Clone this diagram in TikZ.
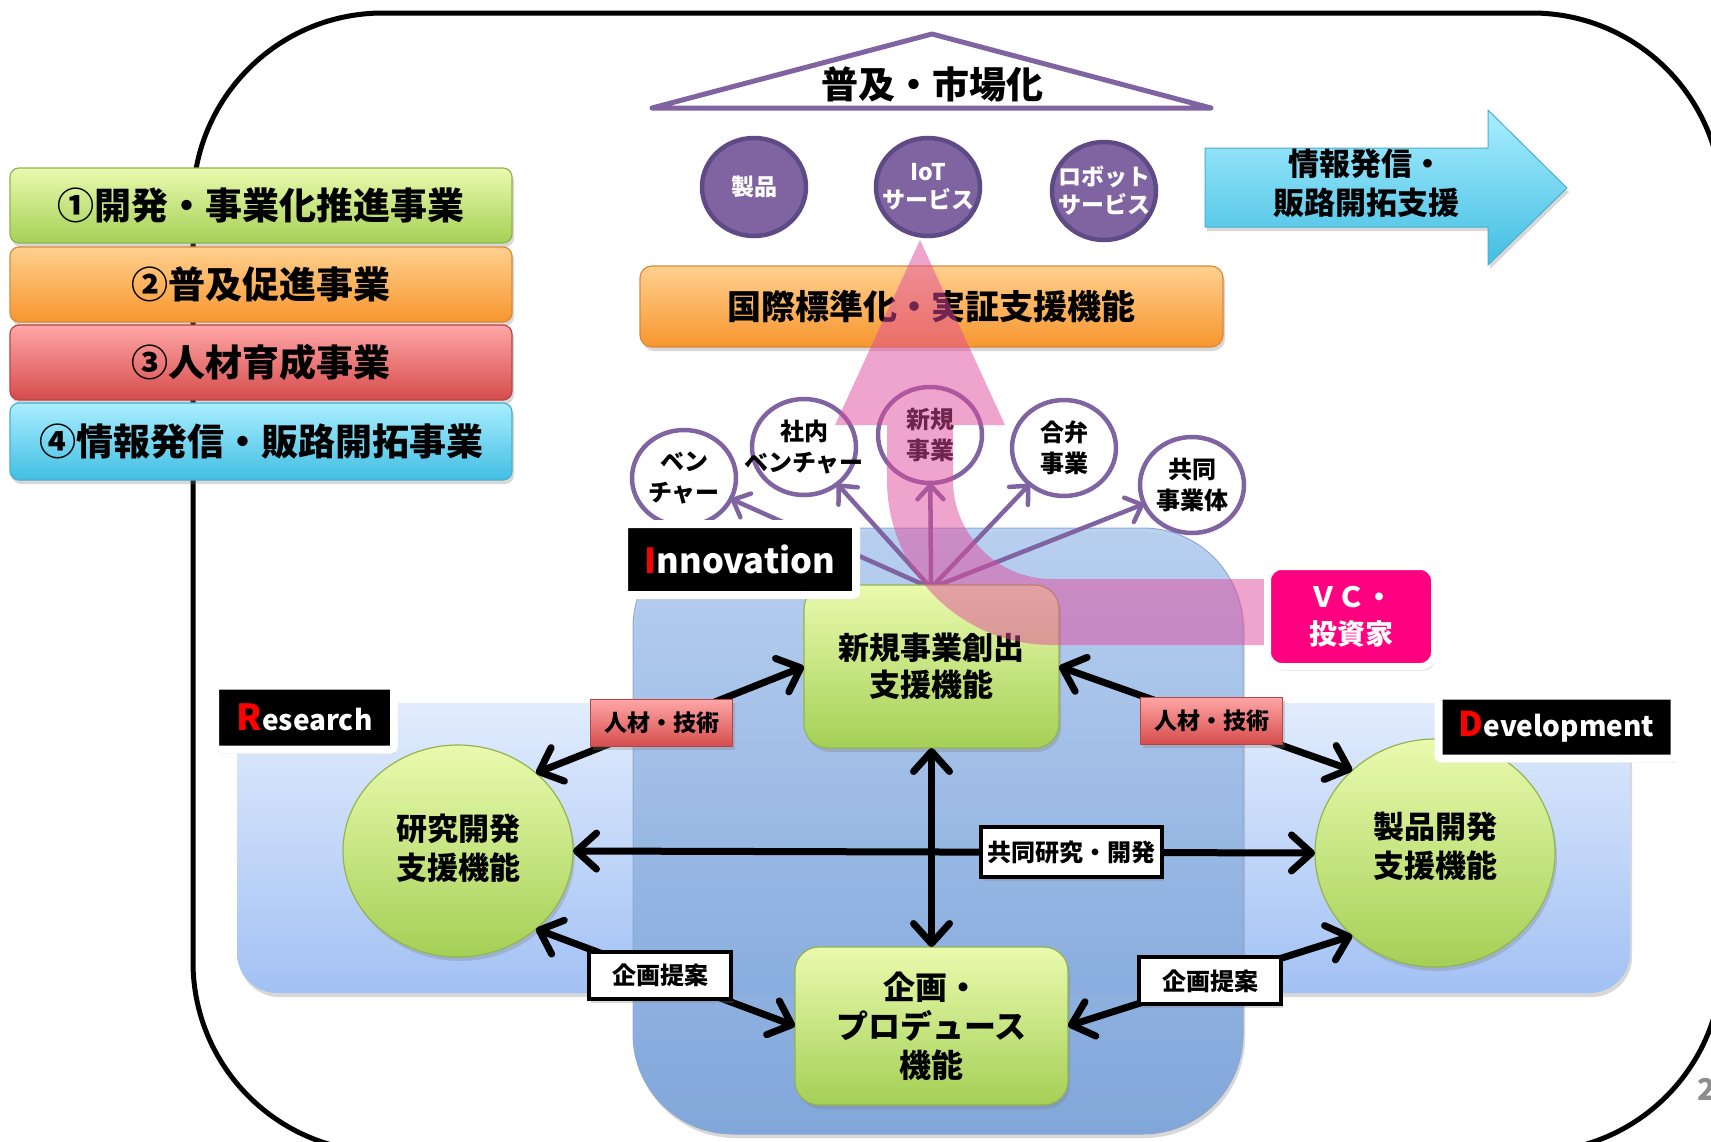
\documentclass[tikz,border=0pt]{standalone}
\usepackage{fontspec}
\setmainfont{Noto Sans CJK JP}
\usetikzlibrary{arrows.meta,shapes.geometric,shadows}
\definecolor{purp}{HTML}{8064A2}
\definecolor{purpdk}{HTML}{5E4A85}
\definecolor{grtop}{HTML}{EAFAAE}
\definecolor{grbot}{HTML}{A4D056}
\definecolor{grline}{HTML}{93B450}
\definecolor{ortop}{HTML}{FFD08F}
\definecolor{orbot}{HTML}{F7962E}
\definecolor{orline}{HTML}{D98A3A}
\definecolor{rdtop}{HTML}{FFA6A6}
\definecolor{rdbot}{HTML}{D64C4C}
\definecolor{rdline}{HTML}{B84545}
\definecolor{cytop}{HTML}{A9EEFF}
\definecolor{cybot}{HTML}{42BEE2}
\definecolor{cyline}{HTML}{4AAFCF}
\definecolor{bltop}{HTML}{B6CFF2}
\definecolor{blbot}{HTML}{7AA3DB}
\definecolor{blline}{HTML}{8DA6CF}
\definecolor{bandtop}{HTML}{E2ECFD}
\definecolor{bandbot}{HTML}{A2C1F4}
\definecolor{magenta2}{HTML}{FF0080}
\definecolor{pinkar}{HTML}{E04A9C}
\newcommand\myfs[2]{\fontsize{#1}{#2}\selectfont\bfseries}
\tikzset{
  shad/.style={drop shadow={opacity=0.3,shadow xshift=2pt,shadow yshift=-4pt}},
  barbox/.style={rectangle, rounded corners=9pt, minimum width=502pt, minimum height=75pt, line width=1.2pt, shad, font=\myfs{37}{40}},
  gbox/.style={rectangle, rounded corners=24pt, top color=grtop, bottom color=grbot, draw=grline, line width=1.2pt, shad, align=center},
  gcirc/.style={ellipse, top color=grtop, bottom color=grbot, draw=grline, line width=1.2pt, shad},
  ocirc/.style={ellipse, minimum width=104pt, minimum height=96pt, draw=purp, line width=4.5pt, fill=white},
  pcirc/.style={ellipse, minimum width=104pt, minimum height=98pt, draw=purpdk, line width=4.5pt, fill=purp},
  lab24/.style={font=\myfs{24}{31}, align=center},
  wt23/.style={font=\myfs{23}{28}, align=center, text=white},
  lab31/.style={font=\myfs{31}{39}, align=center},
  parrow/.style={draw=purp, line width=4.5pt, -{Straight Barb[length=14pt,width=26pt,round]}},
  barrow/.style={draw=black, line width=7pt, {Straight Barb[length=20pt,width=36pt,round]}-{Straight Barb[length=20pt,width=36pt,round]}},
  redlab/.style={rectangle, minimum width=142pt, minimum height=47pt, top color=rdtop, bottom color=rdbot, draw=rdline, line width=1pt, font=\myfs{23}{23}, shad},
  wlab/.style={rectangle, minimum width=142pt, minimum height=47pt, fill=white, draw=black, line width=4pt, font=\myfs{24}{24}, shad},
  blk/.style={rectangle, fill=black, draw=white, line width=8pt, rounded corners=3pt, shad, text=white}
}
\begin{document}
\begin{tikzpicture}[x=1pt,y=-1pt,every node/.style={inner sep=0pt,outer sep=0pt}]
\useasboundingbox (0,0) rectangle (1711,1141);
\fill[white] (0,0) rectangle (1711,1141);
% outer frame
\draw[line width=5pt, rounded corners=190pt] (193,13) rectangle (1722,1152);
% left bars
\node[barbox, top color=grtop, bottom color=grbot, draw=grline] (b1) at (261,205.5) {①開発・事業化推進事業};
\node[barbox, top color=ortop, bottom color=orbot, draw=orline] (b2) at (261,284.5) {②普及促進事業};
\node[barbox, top color=rdtop, bottom color=rdbot, draw=rdline] (b3) at (261,362.5) {③人材育成事業};
\node[barbox, top color=cytop, bottom color=cybot, draw=cyline, minimum height=77pt] (b4) at (261,441.5) {④情報発信・販路開拓事業};
% blue backgrounds
\node[rectangle, rounded corners=40pt, minimum width=1393pt, minimum height=290pt, top color=bandtop, bottom color=bandbot, shad] (band) at (933.5,848) {};
\node[rectangle, rounded corners=100pt, minimum width=610pt, minimum height=606pt, top color=bltop, bottom color=blbot, draw=blline, line width=1pt, shad, opacity=0.92] (core) at (938,831) {};
% outlined circles
\coordinate (src) at (931,588);
\node[ocirc, label={[lab24]center:{ベン\\チャー}}] (o1) at (684,478) {};
\node[ocirc, label={[lab24]center:{社内\\ベンチャー}}] (o2) at (804,447) {};
\node[ocirc, label={[lab24]center:{新規\\事業}}] (o3) at (930,435) {};
\node[ocirc, label={[lab24]center:{合弁\\事業}}] (o4) at (1064,448) {};
\node[ocirc, label={[lab24]center:{共同\\事業体}}] (o5) at (1192,485) {};
\foreach \t in {o1,o2,o3,o4,o5} \draw[parrow] (src) -- (\t);
% green nodes
\node[gbox, minimum width=255pt, minimum height=163pt, font=\myfs{31}{37}] (newb) at (931.5,666.5) {新規事業創出\\支援機能};
\node[gbox, minimum width=273pt, minimum height=158pt, font=\myfs{32}{39}] (plan) at (931.5,1026) {企画・\\プロデュース\\機能};
\node[gcirc, minimum width=230pt, minimum height=212pt, label={[lab31, yshift=3pt]center:{研究開発\\支援機能}}] (res) at (458,851) {};
\node[gcirc, minimum width=240pt, minimum height=228pt, label={[lab31, yshift=7pt]center:{製品開発\\支援機能}}] (prod) at (1435,853) {};
% black arrows
\draw[barrow] (res.45) -- (newb.west) node[pos=0.47, redlab] (l1) {人材・技術};
\draw[barrow] (newb.east) -- (prod.135) node[pos=0.52, redlab] (l2) {人材・技術};
\draw[barrow] (newb.south) -- (plan.north);
\draw[barrow] (res.east) -- (prod.west) node[pos=0.672, wlab, minimum width=181pt, minimum height=50pt] (l3) {共同研究・開発};
\draw[barrow] (res.-45) -- (plan.west) node[pos=0.48, wlab] (l4) {企画提案};
\draw[barrow] (plan.east) -- (prod.-135) node[pos=0.5, wlab] (l5) {企画提案};
% top part
\node[rectangle, rounded corners=12pt, minimum width=583pt, minimum height=81pt, top color=ortop, bottom color=orbot, draw=orline, line width=1.2pt, shad, font=\myfs{34}{34}] (std) at (931.5,306.5) {国際標準化・実証支援機能};
\node[pcirc, label={[wt23]center:{製品}}] (p1) at (754,187) {};
\node[pcirc, label={[wt23]center:{IoT\\サービス}}] (p2) at (928,187) {};
\node[pcirc, label={[wt23]center:{ロボット\\サービス}}] (p3) at (1104,191) {};
\draw[purp, line width=5pt, line join=round] (652,108) -- (932,34) -- (1211,108) -- cycle;
\node[font=\myfs{37}{37}] (mk) at (932,84) {普及・市場化};
\path[top color=cytop, bottom color=cybot, draw=cyline, line width=1pt, shad] (1205,148) -- (1488,148) -- (1488,110) -- (1567,188) -- (1488,265) -- (1488,227) -- (1205,227) -- cycle;
\node[font=\myfs{31}{39}, align=center] (cyt) at (1366,183) {情報発信・\\販路開拓支援};
% pink arrow
\fill[pinkar, fill opacity=0.5] (953,425) -- (953,480) arc[start angle=180,end angle=90,radius=99] -- (1275,579) -- (1275,645) -- (1052,645) arc[start angle=90,end angle=180,radius=165] -- (887,425) -- (835,425) -- (920,240) -- (1005,425) -- cycle;
% labels
\node[blk, minimum width=232pt, minimum height=71pt, font=\myfs{34.5}{34.5}] (inno) at (740,559.5) {\textcolor{red}{I}nnovation};
\node[blk, minimum width=179pt, minimum height=64pt, font=\myfs{28}{28}] (rlab) at (304.5,717.5) {{\myfs{36}{36}\textcolor{red}{R}}esearch};
\node[blk, minimum width=236pt, minimum height=63pt, font=\myfs{28}{28}] (dlab) at (1556.5,727) {{\myfs{34}{34}\textcolor{red}{D}}evelopment};
\node[fill=magenta2, draw=white, line width=7pt, rounded corners=14pt, minimum width=167pt, minimum height=100pt, shad, text=white, font=\myfs{28}{37}, align=center] (vc) at (1351,616.5) {ＶＣ・\\投資家};
\node[anchor=west, text=black!45, font=\myfs{30}{30}] (pg) at (1697,1089) {2};
\end{tikzpicture}
\end{document}
